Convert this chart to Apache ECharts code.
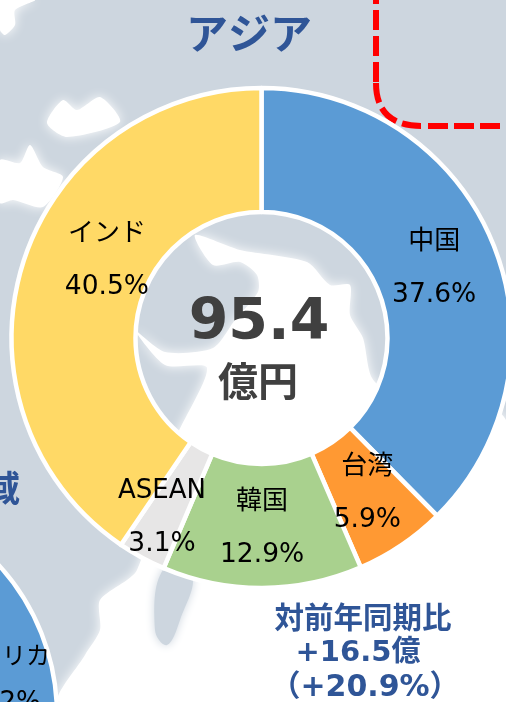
<!DOCTYPE html>
<html>
<head>
<meta charset="utf-8">
<style>html,body{margin:0;padding:0;background:#cdd6df}#main{width:506px;height:702px}</style>
<script src="https://cdn.jsdelivr.net/npm/echarts@6/dist/echarts.min.js"></script>
</head>
<body>
<div id="main"></div>
<script>
var categories = ['中国', '台湾', '韓国', 'ASEAN', 'インド'];
var shares = [37.6, 5.9, 12.9, 3.1, 40.5];
var colors = ['#5b9bd5', '#ff9933', '#a9d18e', '#e7e6e6', '#ffd966'];
var totalValue = '95.4';
var totalUnit = '億円';
var regionTitle = 'アジア';
var changeLines = ['対前年同期比', '+16.5億', '（+20.9%）'];

var BLUE = '#2f5597';
var JP = '"Noto Sans CJK JP", "DejaVu Sans", sans-serif';
var LATIN = '"DejaVu Sans", "Noto Sans CJK JP", sans-serif';

// label nudges where the source slide moved them by hand
var labelShift = {'中国': [-4, 3], '台湾': [-1, -3], 'ASEAN': [-8, 12], 'インド': [28, -21]};

function land(points) {
    return {
        type: 'polygon', z: -10, silent: true,
        shape: {points: points, smooth: 0.25},
        style: {fill: '#ffffff', shadowBlur: 12, shadowColor: '#ffffff'}
    };
}
function sea(points) {
    return {
        type: 'polygon', z: -9, silent: true,
        shape: {points: points, smooth: 0.4},
        style: {fill: '#cdd6df', shadowBlur: 10, shadowColor: '#cdd6df'}
    };
}
function bigText(text, x, y, size, color, weight, font) {
    return {
        type: 'text', z: 20, silent: true, x: x, y: y,
        style: {text: text, fill: color, font: weight + ' ' + size + 'px ' + font, align: 'center', verticalAlign: 'middle'}
    };
}
var redStyle = {fill: 'none', stroke: '#ff0000', lineWidth: 6, lineDash: [20, 6]};

var chart = echarts.init(document.getElementById('main'), null, {renderer: 'canvas'});

var option = {
    animation: false,
    backgroundColor: '#cdd6df',
    color: colors,
    graphic: [
        // clouds and coast behind the chart
        land([[0,0],[35,0],[15,10],[15,25],[5,35],[0,30]]),
        land([[47,123],[63,100],[77,110],[100,97],[120,122],[67,137]]),
        land([[0,160],[20,163],[30,145],[43,167],[63,177],[43,207],[13,200],[0,203]]),
        land([[195,235],[240,250],[307,262],[330,285],[350,285],[350,315],[363,338],[372,378],[400,400],[506,420],[506,702],[60,702],[85,655],[100,630],[100,600],[137,570],[175,440],[207,368],[165,365],[135,330],[165,352],[213,348],[235,320],[258,292],[257,275],[240,262],[213,265]]),
        sea([[163,570],[192,575],[180,620],[167,645],[155,630]]),
        // red dashed boundary
        {type: 'line', z: 1, silent: true, shape: {x1: 376, y1: -16, x2: 376, y2: 82}, style: redStyle},
        {type: 'bezierCurve', z: 1, silent: true, shape: {x1: 376, y1: 83, cpx1: 376, cpy1: 112, cpx2: 392, cpy2: 126, x2: 421, y2: 126}, style: redStyle},
        {type: 'line', z: 1, silent: true, shape: {x1: 428, y1: 126, x2: 506, y2: 126}, style: redStyle},
        bigText(regionTitle, 249, 33, 42, BLUE, 'bold', JP),
        bigText(totalValue, 259, 324, 57, '#404040', 'bold', LATIN),
        bigText(totalUnit, 258, 381, 40, '#404040', 'bold', JP),
        bigText('域', 2, 488, 36, BLUE, 'bold', JP),
        bigText(changeLines[0], 363, 617, 29.5, BLUE, 'bold', JP),
        bigText(changeLines[1], 358, 653, 29, BLUE, 'bold', LATIN),
        bigText(changeLines[2], 365, 688, 30, BLUE, 'bold', LATIN),
        bigText('アフリカ', 2, 655, 24, '#000000', 'normal', JP),
        bigText('2%', 20, 703, 26, '#000000', 'normal', LATIN)
    ],
    series: [
        {
            // neighbouring Africa ring, cut off by the slide edge
            type: 'pie',
            silent: true,
            z: 1,
            center: [-165, 715],
            radius: [0, 222],
            startAngle: 90,
            label: {show: false},
            itemStyle: {color: '#5b9bd5', borderColor: '#ffffff', borderWidth: 4.5},
            data: [{value: 1, name: 'アフリカ'}]
        },
        {
            type: 'pie',
            z: 5,
            center: [261.5, 338],
            radius: [126, 250],
            startAngle: 90,
            clockwise: true,
            avoidLabelOverlap: false,
            itemStyle: {borderColor: '#ffffff', borderWidth: 4.5},
            emphasis: {disabled: true},
            label: {
                show: true,
                position: 'inside',
                formatter: function (p) {
                    return '{n|' + p.name + '}\n{v|' + p.value.toFixed(1) + '%}';
                },
                rich: {
                    n: {fontFamily: LATIN, fontSize: 26, lineHeight: 53, color: '#000000'},
                    v: {fontFamily: LATIN, fontSize: 26.5, lineHeight: 53, color: '#000000'}
                }
            },
            labelLine: {show: false},
            labelLayout: function (params) {
                var s = labelShift[categories[params.dataIndex]] || [0, 0];
                return {dx: s[0], dy: s[1]};
            },
            data: categories.map(function (name, i) {
                return {name: name, value: shares[i]};
            })
        }
    ]
};
chart.setOption(option);
</script>
</body>
</html>
